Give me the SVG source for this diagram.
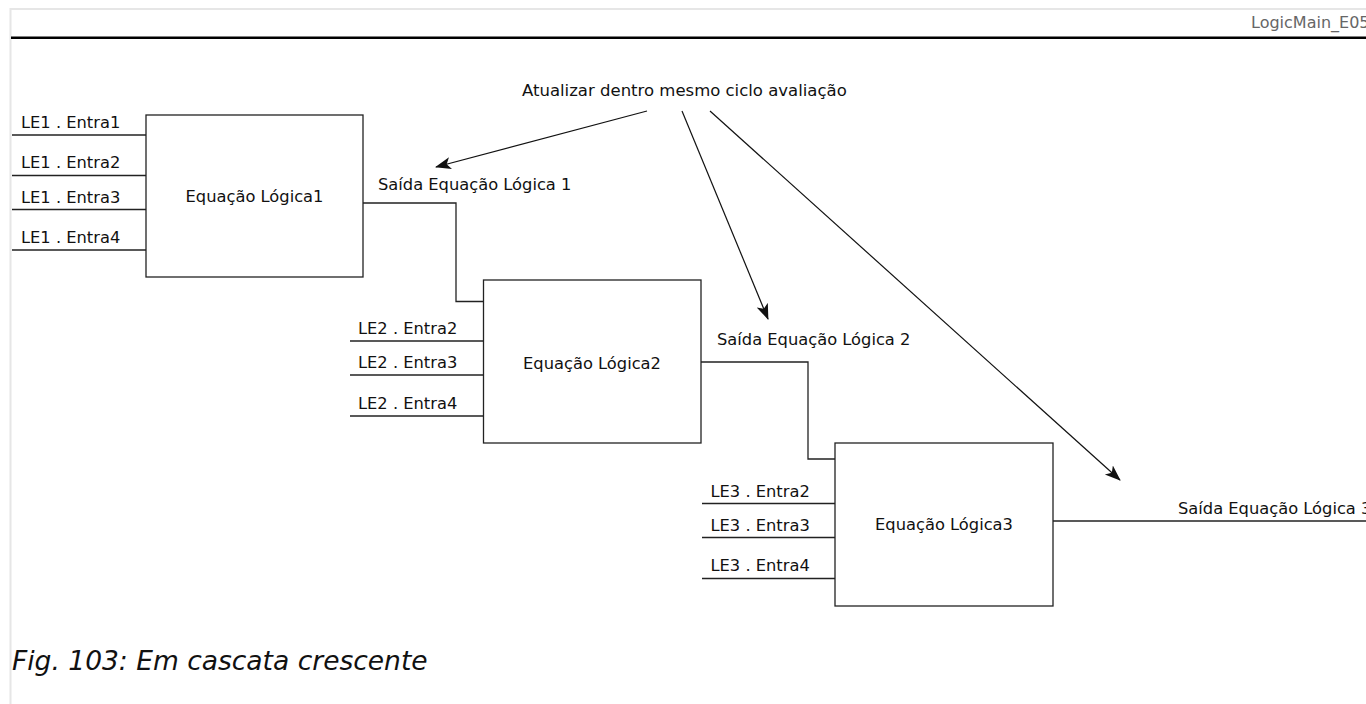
<svg xmlns="http://www.w3.org/2000/svg" width="1366" height="704" viewBox="0 0 1366 704">
<style>
text{font-family:"DejaVu Sans","Liberation Sans",sans-serif;font-size:16.3px;fill:#111}
.box{fill:#fff;stroke:#222;stroke-width:1.3}
.w{fill:none;stroke:#222;stroke-width:1.3}
.arr{fill:none;stroke:#111;stroke-width:1.2;marker-end:url(#ah)}
.mid{text-anchor:middle}
</style>
<defs>
<marker id="ah" markerUnits="userSpaceOnUse" markerWidth="18" markerHeight="14" refX="15" refY="6" orient="auto">
<path d="M0,0 L16,6 L0,12 L4,6 Z" fill="#111"/>
</marker>
</defs>
<rect width="1366" height="704" fill="#fff"/>
<g id="page">
<line x1="10" y1="9" x2="1366" y2="9" stroke="#e6e6e6" stroke-width="2"/>
<line x1="10.5" y1="8" x2="10.5" y2="704" stroke="#e6e6e6" stroke-width="2"/>
<line x1="11" y1="37.8" x2="1366" y2="37.8" stroke="#000" stroke-width="2.6"/>
<text x="1251" y="28" style="font-size:16px;fill:#666">LogicMain_E05</text>
</g>
<g id="note"><text x="522" y="96" style="font-size:16.5px">Atualizar dentro mesmo ciclo avaliação</text></g>
<g id="le1">
<rect class="box" x="146" y="115" width="217" height="162"/>
<text class="mid" x="254.5" y="202">Equação Lógica1</text>
</g>
<g id="le2">
<rect class="box" x="483.5" y="280" width="217.5" height="163"/>
<text class="mid" x="592" y="369">Equação Lógica2</text>
</g>
<g id="le3">
<rect class="box" x="835" y="443" width="218" height="163"/>
<text class="mid" x="944" y="530">Equação Lógica3</text>
</g>
<g id="connectors">
<line class="w" x1="12" y1="135" x2="146" y2="135"/>
<line class="w" x1="12" y1="175.5" x2="146" y2="175.5"/>
<line class="w" x1="12" y1="209.5" x2="146" y2="209.5"/>
<line class="w" x1="12" y1="250" x2="146" y2="250"/>
<polyline class="w" points="363,203 456,203 456,301.5 483.5,301.5"/>
<line class="w" x1="350" y1="341" x2="483.5" y2="341"/>
<line class="w" x1="350" y1="375" x2="483.5" y2="375"/>
<line class="w" x1="350" y1="416" x2="483.5" y2="416"/>
<polyline class="w" points="701,362 808,362 808,459 835,459"/>
<line class="w" x1="702" y1="503.5" x2="835" y2="503.5"/>
<line class="w" x1="702" y1="537.5" x2="835" y2="537.5"/>
<line class="w" x1="702" y1="578.5" x2="835" y2="578.5"/>
<line class="w" x1="1053" y1="521" x2="1366" y2="521"/>
<line class="arr" x1="647" y1="111" x2="436" y2="167"/>
<line class="arr" x1="682" y1="111" x2="768" y2="319"/>
<line class="arr" x1="710" y1="111" x2="1120" y2="480"/>
</g>
<g id="labels">
<text x="21" y="128">LE1 . Entra1</text>
<text x="21" y="168">LE1 . Entra2</text>
<text x="21" y="202.5">LE1 . Entra3</text>
<text x="21" y="242.5">LE1 . Entra4</text>
<text x="378" y="190">Saída Equação Lógica 1</text>
<text x="358" y="334">LE2 . Entra2</text>
<text x="358" y="368">LE2 . Entra3</text>
<text x="358" y="409">LE2 . Entra4</text>
<text x="717" y="345">Saída Equação Lógica 2</text>
<text x="710.5" y="497">LE3 . Entra2</text>
<text x="710.5" y="530.5">LE3 . Entra3</text>
<text x="710.5" y="571">LE3 . Entra4</text>
<text x="1178" y="514">Saída Equação Lógica 3</text>
</g>
<g id="caption"><text x="12" y="670" style="font-size:26.5px;font-style:italic">Fig. 103: Em cascata crescente</text></g>
</svg>
